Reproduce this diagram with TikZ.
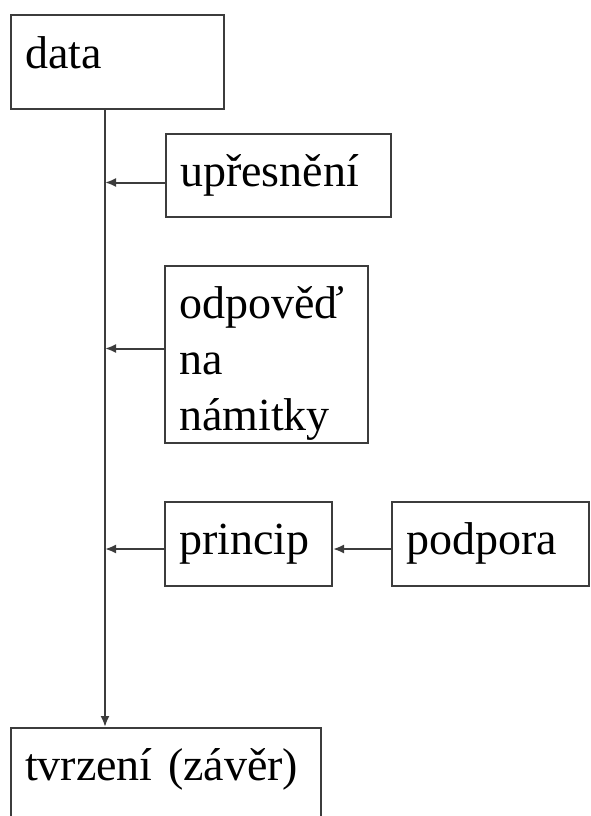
\documentclass[tikz,border=0pt]{standalone}
\usepackage{fontspec}
\setmainfont{Liberation Serif}
\usetikzlibrary{arrows.meta,positioning}
\definecolor{linegray}{RGB}{60,60,60}

\begin{document}
\begin{tikzpicture}[x=1pt, y=-1pt]
    % Define styles
    \tikzset{
        box/.style={rectangle, draw=linegray, line width=2pt, anchor=north west, inner xsep=14pt, inner ysep=0pt, align=left, font=\fontsize{46}{56}\selectfont},
        link/.style={draw=linegray, line width=2pt, -{Latex[length=11pt,width=9pt]}}
    }
    \useasboundingbox (0,0) rectangle (591,816);

    % Boxes
    \node[box, text width=185pt, text height=54pt, text depth=40pt] (data) at (10,14) {data};
    \node[box, text width=197pt, text height=52pt, text depth=31pt] (refine) at (165,133) {upřesnění};
    \node[box, text width=175pt, text height=52pt, text depth=125pt] (reply) at (164,265) {odpověď\\na\\námitky};
    \node[box, text width=139pt, text height=52pt, text depth=32pt] (rule) at (164,501) {princip};
    \node[box, text width=169pt, text height=52pt, text depth=32pt] (backing) at (391,501) {podpora};
    \node[box, text width=282pt, text height=52pt, text depth=68pt] (claim) at (10,727) {tvrzení (závěr)};

    % Spine
    \coordinate (spine) at (105,0);
    \draw[link] (data.south -| spine) -- (claim.north -| spine);

    % Arrows
    \draw[link] ([yshift=-7pt]refine.west) -- ([yshift=-7pt]refine.west -| spine);
    \draw[link] ([yshift=6pt]reply.west) -- ([yshift=6pt]reply.west -| spine);
    \draw[link] ([yshift=-5pt]rule.west) -- ([yshift=-5pt]rule.west -| spine);
    \draw[link] ([yshift=-5pt]backing.west) -- ([yshift=-5pt]rule.east);
\end{tikzpicture}
\end{document}
